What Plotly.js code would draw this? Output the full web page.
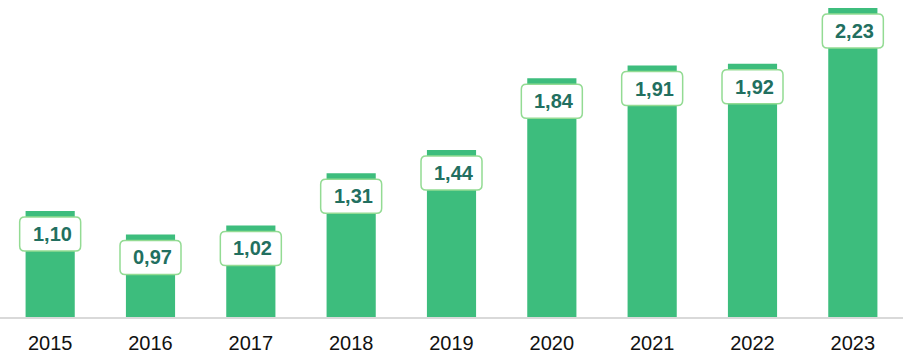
<!DOCTYPE html>
<html><head><meta charset="utf-8">
<script src="https://cdn.plot.ly/plotly-3.0.1.min.js"></script>
<style>html,body{margin:0;padding:0;background:#fff;}#chart{width:906px;height:360px;}</style>
</head><body><div id="chart"></div>
<script>
var years = [2015, 2016, 2017, 2018, 2019, 2020, 2021, 2022, 2023];
var values = [1.10, 0.97, 1.02, 1.31, 1.44, 1.84, 1.91, 1.92, 2.23];
var labels = values.map(function(v){ return v.toFixed(2).replace('.', ','); });

var barColor = '#3dbd7d';
var boxBorder = '#93db93';
var textColor = '#226f60';

function roundRect(x0, y0, x1, y1, r) {
  return 'M' + (x0 + r) + ',' + y1 +
    ' L' + (x1 - r) + ',' + y1 + ' Q' + x1 + ',' + y1 + ' ' + x1 + ',' + (y1 - r) +
    ' L' + x1 + ',' + (y0 + r) + ' Q' + x1 + ',' + y0 + ' ' + (x1 - r) + ',' + y0 +
    ' L' + (x0 + r) + ',' + y0 + ' Q' + x0 + ',' + y0 + ' ' + x0 + ',' + (y0 + r) +
    ' L' + x0 + ',' + (y1 - r) + ' Q' + x0 + ',' + y1 + ' ' + (x0 + r) + ',' + y1 + ' Z';
}

var shapes = years.map(function(yr, i){
  return {
    type: 'path', xref: 'x', yref: 'y',
    xsizemode: 'pixel', ysizemode: 'pixel',
    xanchor: yr, yanchor: values[i],
    path: roundRect(-30.5, -40, 30.5, -6, 5),
    fillcolor: '#ffffff',
    line: {color: boxBorder, width: 1.5},
    layer: 'above'
  };
});

var annotations = years.map(function(yr, i){
  return {
    x: yr, y: values[i], xref: 'x', yref: 'y',
    text: '<b>' + labels[i] + '</b>',
    showarrow: false, xanchor: 'center', yanchor: 'middle',
    xshift: 2, yshift: -23,
    font: {family: 'Arial, Liberation Sans, sans-serif', size: 20, color: textColor}
  };
});

var trace = {
  type: 'bar', x: years, y: values,
  marker: {color: barColor},
  hoverinfo: 'none'
};

var layout = {
  width: 906, height: 360,
  margin: {l: 0, r: 3, t: 0, b: 43},
  paper_bgcolor: '#ffffff', plot_bgcolor: '#ffffff',
  bargap: 0.51,
  showlegend: false,
  xaxis: {
    range: [2014.5, 2023.5], tickvals: years, ticktext: years.map(String),
    showgrid: false, zeroline: false,
    showline: true, linecolor: '#d9d9d9', linewidth: 2,
    ticks: 'outside', ticklen: 7, tickcolor: 'rgba(0,0,0,0)',
    tickfont: {family: 'Arial, Liberation Sans, sans-serif', size: 20, color: '#111111'},
    fixedrange: true
  },
  yaxis: {
    range: [0.51, 2.275], visible: false, showgrid: false, zeroline: false, fixedrange: true
  },
  shapes: shapes,
  annotations: annotations
};

Plotly.newPlot('chart', [trace], layout, {displayModeBar: false, staticPlot: true});
</script>
</body></html>
